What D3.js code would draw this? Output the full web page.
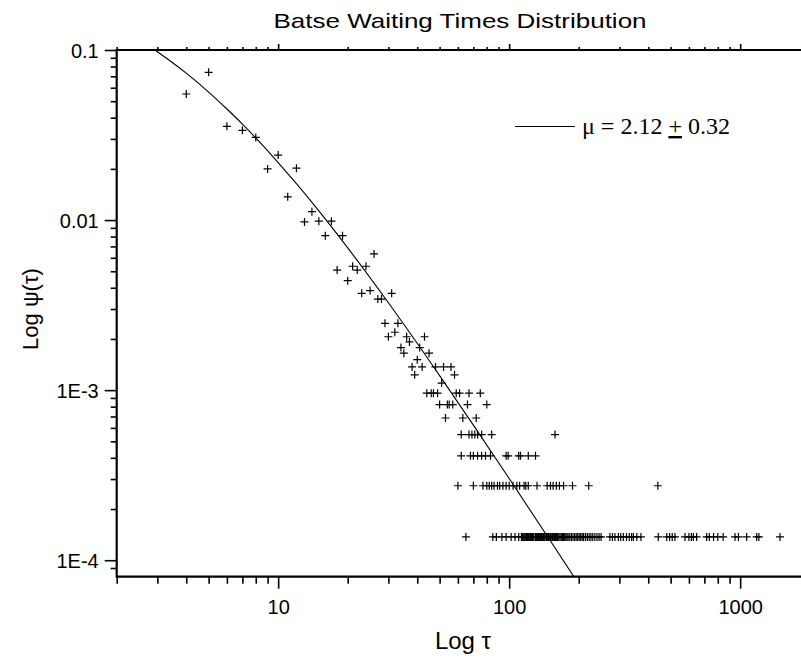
<!DOCTYPE html>
<html>
<head>
<meta charset="utf-8">
<script src="https://cdn.jsdelivr.net/npm/d3@7/dist/d3.min.js"></script>
<style>
body { margin: 0; background: #fff; }
svg { display: block; }
.lbl { font-family: 'Liberation Sans', Arial, sans-serif; fill: #000; }
</style>
</head>
<body>
<svg id="chart" width="801" height="658"></svg>
<script>
'use strict';

// points with several counts
let tau = [4, 5, 6, 7, 8, 9, 10, 11, 12, 13, 14, 15, 16, 17, 18, 19, 20, 21, 22, 23, 24, 25, 26, 27, 28, 29, 30,
	31, 32, 33, 34, 35, 36, 37, 38, 39, 40, 41, 42, 43, 45, 48, 51, 52, 56, 58];
let psi = [0.0551, 0.0739, 0.0356, 0.0337, 0.0306, 0.0200, 0.0241, 0.0137, 0.0202, 0.00975, 0.0112, 0.00985, 0.00810, 0.00985,
	0.00508, 0.00810, 0.00440, 0.00535, 0.00508, 0.00371, 0.00535, 0.00385, 0.00632, 0.00343, 0.00343, 0.00247, 0.00206,
	0.00371, 0.00219, 0.00247, 0.00178, 0.00165, 0.00206, 0.00192, 0.00137, 0.00123, 0.00151, 0.00178, 0.00137, 0.00206,
	0.00165, 0.00137, 0.00110, 0.00137, 0.00137, 0.00123];

// the low rows: one value of psi and the waiting times that have it
let levelPsi = [1.37e-4, 2.74e-4, 4.11e-4, 5.48e-4, 6.86e-4, 8.23e-4, 9.60e-4];
let levelTau = [
	[65, 85, 88, 93, 97, 102, 106, 110, 113, 114, 115, 116, 117, 118, 119, 120, 121, 122, 123, 124, 125, 126, 127, 128,
		130, 131, 132, 133, 134, 135, 136, 137, 138, 139, 140, 141, 142, 143, 145, 146, 147, 148, 150, 151, 153, 154, 156,
		157, 159, 160, 162, 164, 166, 168, 170, 172, 174, 176, 178, 180, 183, 186, 189, 192, 195, 198, 201, 204, 207, 210,
		214, 218, 222, 226, 230, 235, 240, 245, 250, 273, 280, 287, 297, 304, 312, 322, 331, 339, 345, 357, 372, 442, 481,
		495, 508, 522, 577, 600, 615, 627, 648, 716, 735, 767, 800, 844, 950, 983, 1067, 1179, 1205, 1487],
	[60, 70, 77, 80, 82, 84, 86, 89, 91, 94, 97, 100, 104, 108, 111, 116, 118, 121, 132, 146, 151, 155, 160, 165, 172,
		188, 221, 440],
	[62, 68, 70, 73, 76, 79, 83, 97, 99, 110, 112, 121, 130],
	[62, 67, 69, 71, 73, 76, 84, 158],
	[53, 63, 72],
	[50, 54, 55, 57, 66, 80],
	[44, 46, 47, 49, 59, 61, 67, 75]
];

// fitted curve
let fitTau = [2.9, 3, 4, 5, 6, 7, 8, 10, 12, 15, 20, 30, 50, 70, 100, 150, 200];
let fitPsi = [0.1009, 0.0977, 0.0731, 0.0566, 0.0450, 0.0367, 0.0304, 0.0218, 0.01636, 0.01132, 0.006865, 0.003264,
	0.001218, 6.23e-4, 3.025e-4, 1.314e-4, 7.24e-5];

let xMajor = [10, 100, 1000];
let xMinor = [2, 3, 4, 5, 6, 7, 8, 9, 20, 30, 40, 50, 60, 70, 80, 90, 200, 300, 400, 500, 600, 700, 800, 900];
let yMajor = [1e-4, 1e-3, 1e-2, 1e-1];
let yMajorText = ['1E-4', '1E-3', '0.01', '0.1'];
let yMinor = [9e-5, 2e-4, 3e-4, 4e-4, 5e-4, 6e-4, 7e-4, 8e-4, 9e-4, 2e-3, 3e-3, 4e-3, 5e-3, 6e-3, 7e-3, 8e-3, 9e-3,
	0.02, 0.03, 0.04, 0.05, 0.06, 0.07, 0.08, 0.09];

let L = 116.7, T = 50, B = 576.7;

let x = d3.scaleLog().domain([2, 2000]).range([L, L + 3*231]);
let y = d3.scaleLog().domain([8e-5, 0.1]).range([B, T]);

let svg = d3.select('#chart');

svg.append('defs').append('clipPath').attr('id', 'plot')
	.append('rect').attr('x', L).attr('y', T).attr('width', 801 - L).attr('height', B - T);

// title and axis names
svg.append('text').classed('lbl', true)
	.attr('x', 460).attr('y', 28)
	.attr('text-anchor', 'middle')
	.style('font-size', '26px')
	.attr('transform', 'translate(460,28) scale(1,0.8) translate(-460,-28)')
	.text('Batse Waiting Times Distribution');

svg.append('text').classed('lbl', true)
	.attr('x', 463).attr('y', 649)
	.attr('text-anchor', 'middle')
	.style('font-size', '24px')
	.text('Log τ');

svg.append('text').classed('lbl', true)
	.attr('transform', 'translate(38, 309) rotate(-90)')
	.attr('text-anchor', 'middle')
	.style('font-size', '22px')
	.text('Log ψ(τ)');

// axes
let gx = svg.append('g').attr('transform', 'translate(0,' + B + ')');
gx.call(d3.axisBottom(x).tickValues(xMajor).tickSize(12).tickFormat(d3.format('d')));
gx.append('g').call(d3.axisBottom(x).tickValues(xMinor).tickSize(7).tickFormat(''));

let gt = svg.append('g').attr('transform', 'translate(0,' + T + ')');
gt.call(d3.axisTop(x).tickValues(xMajor).tickSize(6).tickFormat(''));
gt.append('g').call(d3.axisTop(x).tickValues(xMinor).tickSize(3).tickFormat(''));

let gy = svg.append('g').attr('transform', 'translate(' + L + ',0)');
gy.call(d3.axisLeft(y).tickValues(yMajor).tickSize(12).tickFormat(function(d, i) { return yMajorText[i]; }));
gy.append('g').call(d3.axisLeft(y).tickValues(yMinor).tickSize(6).tickFormat(''));

svg.selectAll('.domain').remove();
svg.selectAll('.tick line').attr('stroke', '#000').attr('stroke-width', 1.6);
svg.selectAll('.tick text')
	.attr('fill', '#000')
	.style('font-family', "'Liberation Sans', Arial, sans-serif")
	.style('font-size', '20px');
gx.selectAll('.tick text').attr('y', 18).attr('dy', '0.95em');
gy.selectAll('.tick text').attr('x', -18).attr('dy', '0.36em');

// frame
svg.append('path')
	.attr('d', 'M801,' + T + 'H' + L + 'V' + B + 'H801')
	.attr('fill', 'none')
	.attr('stroke', '#000')
	.attr('stroke-width', 2.2);

// fitted curve
let line = d3.line()
	.x(function(d) { return x(d[0]); })
	.y(function(d) { return y(d[1]); })
	.curve(d3.curveMonotoneX);

svg.append('path')
	.datum(d3.zip(fitTau, fitPsi))
	.attr('clip-path', 'url(#plot)')
	.attr('d', line)
	.attr('fill', 'none')
	.attr('stroke', '#000')
	.attr('stroke-width', 1.1);

// data points
let pts = d3.zip(tau, psi);
for (let i=0 ; i<levelPsi.length ; ++i) {
	for (let j=0 ; j<levelTau[i].length ; ++j) {
		pts.push([levelTau[i][j], levelPsi[i]]);
	}
}

svg.append('g').selectAll('path')
	.data(pts)
	.join('path')
		.attr('transform', function(d) { return 'translate(' + x(d[0]) + ',' + y(d[1]) + ')'; })
		.attr('d', 'M-4,0H4M0,-4V4')
		.attr('fill', 'none')
		.attr('stroke', '#000')
		.attr('stroke-width', 1.2)
	;

// legend
let lg = svg.append('g');
lg.append('line')
	.attr('x1', 515).attr('x2', 575)
	.attr('y1', 126.5).attr('y2', 126.5)
	.attr('stroke', '#000')
	.attr('stroke-width', 1.1);

let lt = lg.append('text')
	.attr('x', 582).attr('y', 134)
	.style('font-family', "'Liberation Serif', 'Times New Roman', serif")
	.style('font-size', '24px')
	.attr('fill', '#000');
lt.append('tspan').text('μ = 2.12 ');
lt.append('tspan').style('text-decoration', 'underline').text('+');
lt.append('tspan').text(' 0.32');
</script>
</body>
</html>
